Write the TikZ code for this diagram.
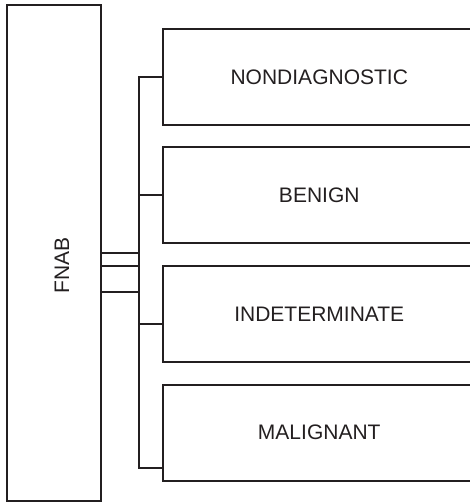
\documentclass[tikz,border=0pt]{standalone}
\usepackage{fontspec}
\setmainfont{Liberation Sans}
\definecolor{ink}{HTML}{231F20}
\begin{document}
\begin{tikzpicture}[x=1bp,y=-1bp,
  box/.style={draw=ink,line width=2bp,inner sep=0pt,text=ink,font=\fontsize{21bp}{25bp}\selectfont},
  cat/.style={box,minimum width=313.5bp,minimum height=95.5bp},
  conn/.style={draw=ink,line width=2bp}]
\useasboundingbox (0,0) rectangle (470,503);
\clip (0,0) rectangle (470,503);
\node[box,minimum width=94bp,minimum height=496bp] (fnab) at (54,253) {};
\node[rotate=90,text=ink,font=\fontsize{21bp}{25bp}\selectfont] (fnabt) at (62,265) {FNAB};
\node[cat] (b1) at (319.25,77.25) {NONDIAGNOSTIC};
\node[cat] (b2) at (319.25,195.25) {BENIGN};
\node[cat] (b3) at (319.25,314) {INDETERMINATE};
\node[cat] (b4) at (319.25,432.75) {MALIGNANT};
\coordinate (bt) at (139,77.25);
\coordinate (bb) at (139,468);
\coordinate (j3) at (139,324);
\coordinate (f1) at (139,253);
\coordinate (f2) at (139,266);
\coordinate (f3) at (139,292);
\draw[conn] (bt -| b1.west) -- (bt) -- (bb) -- (bb -| b4.west);
\draw[conn] (b2.west) -- (b2.west -| bt);
\draw[conn] (j3) -- (j3 -| b3.west);
\draw[conn] (f1 -| fnab.east) -- (f1);
\draw[conn] (f2 -| fnab.east) -- (f2);
\draw[conn] (f3 -| fnab.east) -- (f3);
\end{tikzpicture}
\end{document}
